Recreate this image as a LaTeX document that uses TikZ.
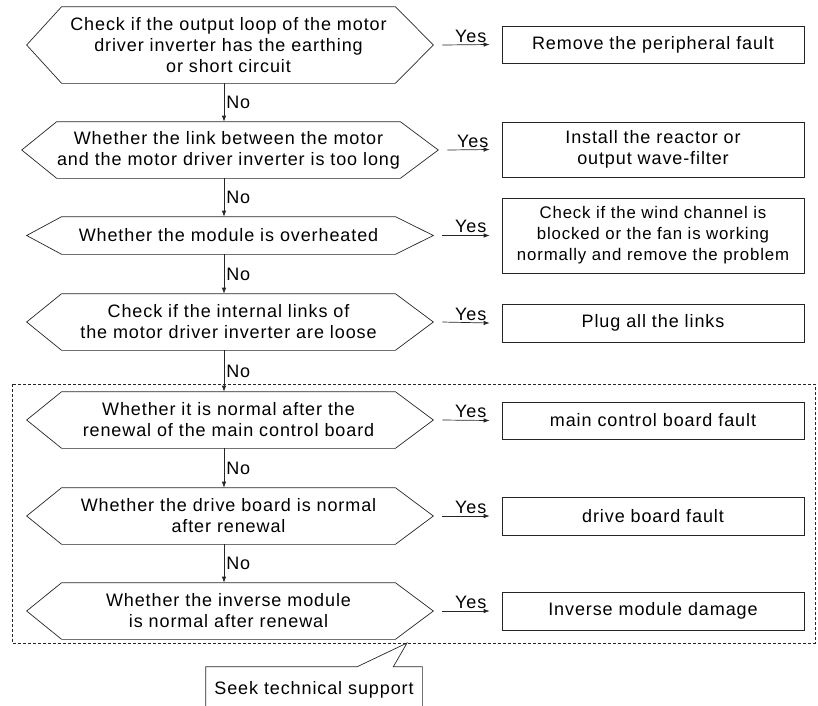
\documentclass[tikz,border=0pt]{standalone}
\usepackage{fontspec}
\setmainfont[LetterSpace=5.0]{Liberation Sans}
\usetikzlibrary{arrows.meta}

\newcommand{\hexout}[1]{\draw (#1.north west) -- (#1.north east) -- ([xshift=38pt]#1.east) -- (#1.south east) -- (#1.south west) -- ([xshift=-35pt]#1.west) -- cycle;}

\tikzset{
  txt/.style={font=\fontsize{18}{21}\selectfont},
  test/.style={txt,minimum width=333pt,inner sep=0pt,align=center},
  result/.style={txt,draw,minimum width=302pt,inner sep=0pt,align=center},
  flow/.style={-{Latex[length=6pt,width=4.5pt]}},
  lbl/.style={txt,inner sep=2pt}
}

\begin{document}
\begin{tikzpicture}[x=1pt,y=-1pt,line width=0.7pt,draw=black!85]
\useasboundingbox (0,0) rectangle (818,705);
% checks
\node[test,minimum height=76pt] (t1) at (228.5,45) {Check if the output loop of the motor\\driver inverter has the earthing\\or short circuit};
\hexout{t1}
\node[test,minimum height=56pt] (t2) at (228.5,150) {Whether the link between the motor\\and the motor driver inverter is too long};
\hexout{t2}
\node[test,minimum height=37pt] (t3) at (228.5,235.5) {Whether the module is overheated};
\hexout{t3}
\node[test,minimum height=56pt] (t4) at (228.5,322) {Check if the internal links of\\the motor driver inverter are loose};
\hexout{t4}
\node[test,minimum height=56pt] (t5) at (228.5,420) {Whether it is normal after the\\renewal of the main control board};
\hexout{t5}
\node[test,minimum height=56pt] (t6) at (228.5,516) {Whether the drive board is normal\\after renewal};
\hexout{t6}
\node[test,minimum height=56pt] (t7) at (228.5,611) {Whether the inverse module\\is normal after renewal};
\hexout{t7}
% results
\node[result,minimum height=37pt] (r1) at (653,44.5) {Remove the peripheral fault};
\node[result,minimum height=55pt] (r2) at (653,149.5) {Install the reactor or\\output wave-filter};
\node[result,minimum height=75pt,font=\fontsize{16.8}{21}\selectfont] (r3) at (653,235.5) {Check if the wind channel is\\blocked or the fan is working\\normally and remove the problem};
\node[result,minimum height=38pt] (r4) at (653,323) {Plug all the links};
\node[result,minimum height=37pt] (r5) at (653,420.5) {main control board fault};
\node[result,minimum height=38pt] (r6) at (653,516) {drive board fault};
\node[result,minimum height=38pt] (r7) at (653,611) {Inverse module damage};
% yes
\foreach \i in {1,...,7}
  \draw[flow] ([xshift=47pt]t\i.east) -- node[lbl,above,pos=0.6]{Yes} ([xshift=-12pt]r\i.west);
% no
\foreach \a/\b in {1/2,2/3,3/4,4/5,5/6,6/7}
  \draw[flow] ([xshift=-4.5pt]t\a.south) -- node[lbl,right]{No} ([xshift=-4.5pt]t\b.north);
% replaced boards
\draw[dashed,dash pattern=on 3pt off 2pt,line width=0.6pt] (12,384) rectangle (815,643);
\coordinate (tip) at (407,643);
\node[txt,minimum width=216pt,minimum height=46pt,inner sep=0pt] (seek) at (314,690) {Seek technical support};
\draw (seek.south west) -- (seek.north west) -- ([xshift=-65pt]seek.north east) -- (tip) -- ([xshift=-29pt]seek.north east) -- (seek.north east) -- (seek.south east);
\end{tikzpicture}
\end{document}
